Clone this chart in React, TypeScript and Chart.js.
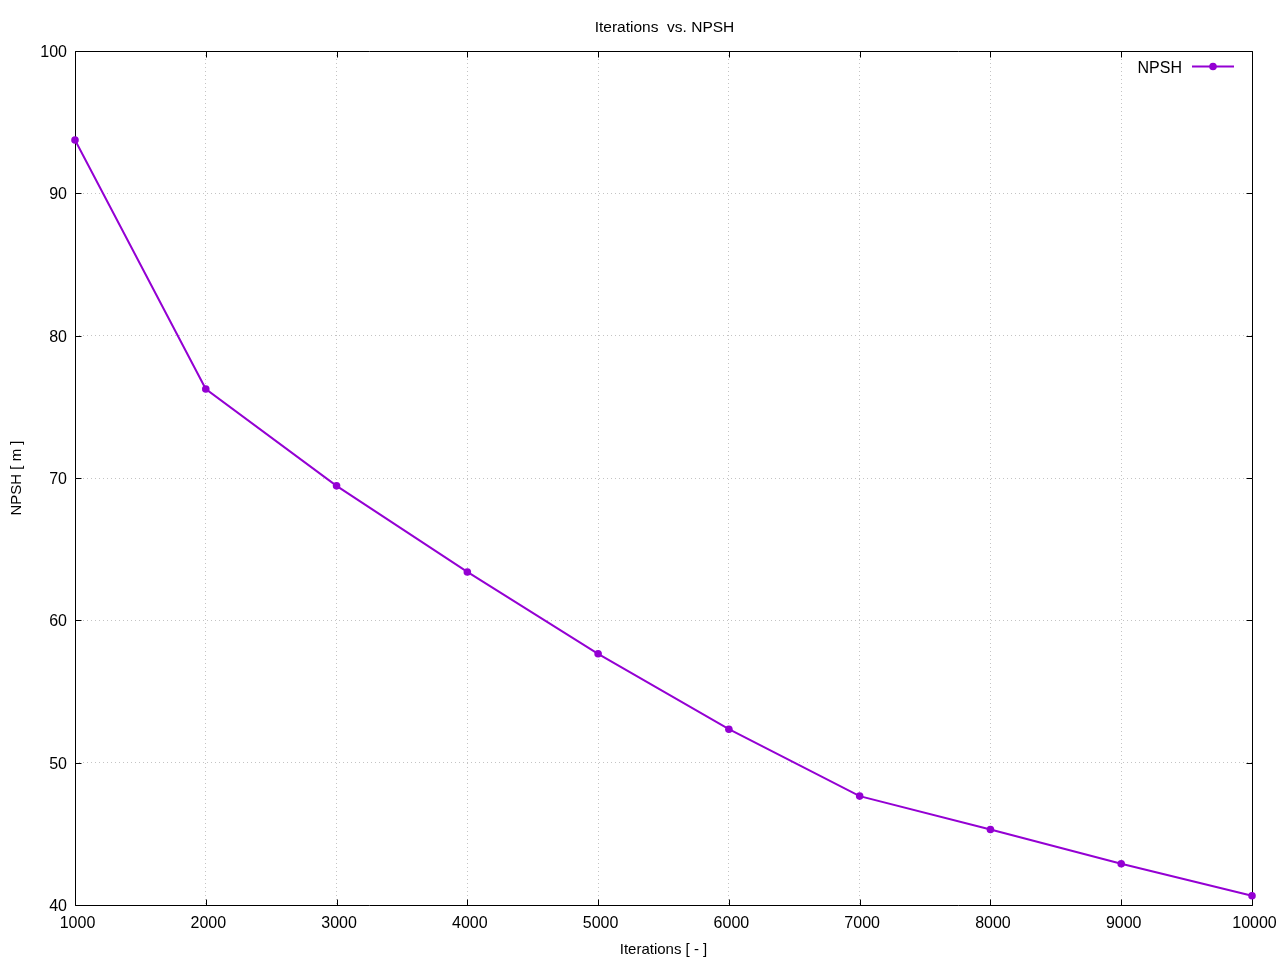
import React, { useEffect, useRef } from 'react';
import { Chart, registerables } from 'chart.js';

Chart.register(...registerables);

const iterations = [1000, 2000, 3000, 4000, 5000, 6000, 7000, 8000, 9000, 10000];
const npsh = [93.75, 76.25, 69.45, 63.4, 57.65, 52.35, 47.65, 45.3, 42.9, 40.65];
const seriesLabel = 'NPSH';
const chartTitle = 'Iterations  vs. NPSH';
const xTitle = 'Iterations [ - ]';
const yTitle = 'NPSH [ m ]';

const PURPLE = '#9400d3';
const FONT = '"Liberation Sans", Arial, sans-serif';

const framePlugin = {
  id: 'gnuFrame',
  beforeDatasetsDraw(chart: any) {
    const { ctx, chartArea } = chart;
    const { left, right, top, bottom } = chartArea;
    const xs = chart.scales.x;
    const ys = chart.scales.y;
    ctx.save();
    ctx.strokeStyle = '#000';
    ctx.lineWidth = 1;
    ctx.beginPath();
    const L = Math.round(left) + 0.5;
    const R = Math.round(right) + 0.5;
    const T = Math.round(top) + 0.5;
    const B = Math.round(bottom) + 0.5;
    ctx.rect(L, T, R - L, B - T);
    const tl = 6;
    xs.ticks.forEach((t: any) => {
      const px = Math.round(xs.getPixelForValue(t.value)) + 0.5;
      ctx.moveTo(px, B);
      ctx.lineTo(px, B - tl);
      ctx.moveTo(px, T);
      ctx.lineTo(px, T + tl);
    });
    ys.ticks.forEach((t: any) => {
      const py = Math.round(ys.getPixelForValue(t.value)) + 0.5;
      ctx.moveTo(L, py);
      ctx.lineTo(L + tl, py);
      ctx.moveTo(R, py);
      ctx.lineTo(R - tl, py);
    });
    ctx.stroke();
    ctx.restore();
  },
  afterDraw(chart: any) {
    const { ctx, chartArea } = chart;
    ctx.save();
    ctx.fillStyle = '#000';
    // title
    ctx.font = `15.5px ${FONT}`;
    ctx.textAlign = 'center';
    ctx.textBaseline = 'middle';
    ctx.fillText(chartTitle, (chartArea.left + chartArea.right) / 2 + 1, 28);
    // legend
    ctx.font = `16px ${FONT}`;
    ctx.textAlign = 'right';
    ctx.fillText(seriesLabel, 1182, 68.5);
    ctx.strokeStyle = PURPLE;
    ctx.lineWidth = 2;
    ctx.beginPath();
    ctx.moveTo(1192, 66.5);
    ctx.lineTo(1234, 66.5);
    ctx.stroke();
    ctx.fillStyle = PURPLE;
    ctx.beginPath();
    ctx.arc(1213, 66.5, 3.8, 0, Math.PI * 2);
    ctx.fill();
    ctx.restore();
  },
};

const zeroPad = (s: any) => {
  s.paddingLeft = 0;
  s.paddingRight = 0;
  s.paddingTop = 0;
  s.paddingBottom = 0;
};

export default function App() {
  const ref = useRef<HTMLCanvasElement | null>(null);
  useEffect(() => {
    if (!ref.current) return;
    const chart = new Chart(ref.current, {
      type: 'line',
      data: {
        datasets: [
          {
            label: seriesLabel,
            data: iterations.map((x, i) => ({ x, y: npsh[i] })),
            borderColor: PURPLE,
            backgroundColor: PURPLE,
            borderWidth: 2,
            pointRadius: 3.8,
            pointBorderWidth: 0,
            pointBackgroundColor: PURPLE,
            tension: 0,
            clip: false as any,
          },
        ],
      },
      options: {
        animation: false,
        responsive: false,
        maintainAspectRatio: false,
        layout: { padding: { left: 0, top: 51, right: 28, bottom: 0 } },
        plugins: {
          legend: { display: false },
          title: { display: false },
          tooltip: { enabled: false },
        },
        scales: {
          x: {
            type: 'linear',
            min: 1000,
            max: 10000,
            afterFit: (s: any) => {
              s.height = 55;
              zeroPad(s);
            },
            ticks: {
              stepSize: 1000,
              padding: 9,
              labelOffset: 2.5,
              maxRotation: 0,
              color: '#000',
              font: { family: FONT, size: 16 },
              callback: (v: any) => String(v),
            },
            grid: { color: '#c4c4c4', lineWidth: 1, drawTicks: false },
            border: { display: false, dash: [1, 3] },
            title: {
              display: true,
              text: xTitle,
              color: '#000',
              font: { family: FONT, size: 15 },
              padding: { top: 1, bottom: 1 },
            },
          },
          y: {
            type: 'linear',
            min: 40,
            max: 100,
            afterFit: (s: any) => {
              s.width = 75;
              zeroPad(s);
            },
            ticks: {
              stepSize: 10,
              padding: 8,
              labelOffset: 1.5,
              color: '#000',
              font: { family: FONT, size: 16 },
            },
            grid: { color: '#c4c4c4', lineWidth: 1, drawTicks: false },
            border: { display: false, dash: [1, 3] },
            title: {
              display: true,
              text: yTitle,
              color: '#000',
              font: { family: FONT, size: 15 },
              padding: { top: 8, bottom: 8 },
            },
          },
        },
      },
      plugins: [framePlugin],
    } as any);
    return () => chart.destroy();
  }, []);
  return (
    <div style={{ position: 'fixed', left: 0, top: 0, width: 1280, height: 960, background: '#fff' }}>
      <canvas ref={ref} width={1280} height={960} style={{ width: 1280, height: 960, display: 'block' }} />
    </div>
  );
}
